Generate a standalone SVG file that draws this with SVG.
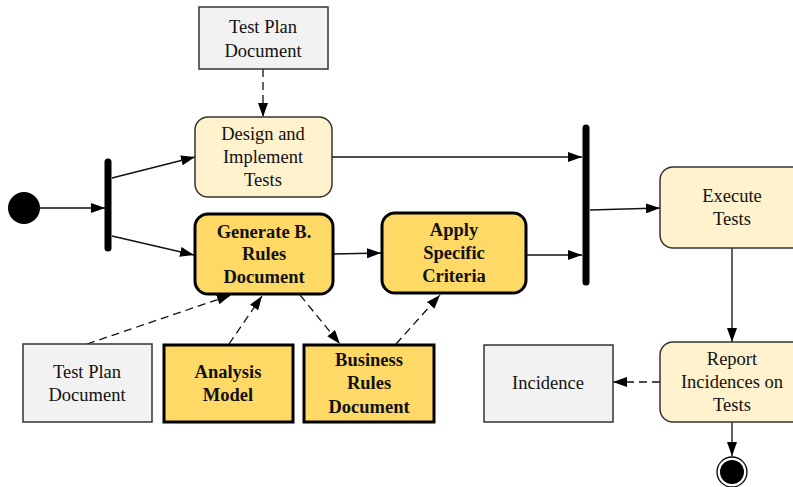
<svg xmlns="http://www.w3.org/2000/svg" width="793" height="487" viewBox="0 0 793 487">
  <style>
    .txt { font-family: "Liberation Serif", "Times New Roman", serif; font-size: 18.5px; fill: #111; text-anchor: middle; }
    .bold { font-weight: bold; }
    .act { fill: #FFF2CC; stroke: #333; stroke-width: 1.5; }
    .actb { fill: #FFD966; stroke: #000; stroke-width: 3; }
    .obj { fill: #F2F2F2; stroke: #333; stroke-width: 1.5; }
    .objb { fill: #FFD966; stroke: #000; stroke-width: 3; }
    .flow { stroke: #111; stroke-width: 1.3; fill: none; marker-end: url(#arrow); }
    .dep { stroke: #111; stroke-width: 1.3; fill: none; stroke-dasharray: 8 5; marker-end: url(#arrow); }
    .bar { stroke: #000; stroke-width: 7; stroke-linecap: round; }
  </style>
  <defs>
    <marker id="arrow" viewBox="0 0 14 10" refX="14" refY="5" markerWidth="14" markerHeight="10" markerUnits="userSpaceOnUse" orient="auto">
      <path d="M0,0 L14,5 L0,10 Z" fill="#000"/>
    </marker>
  </defs>

  <rect width="793" height="487" fill="#fff"/>

  <!-- connectors -->
  <g id="connectors">
    <line class="flow" x1="40" y1="208" x2="105" y2="208"/>
    <line class="flow" x1="112" y1="178" x2="195" y2="157"/>
    <line class="flow" x1="112" y1="236" x2="194" y2="255"/>
    <line class="flow" x1="332" y1="157" x2="582" y2="157"/>
    <line class="flow" x1="333" y1="254" x2="381" y2="253"/>
    <line class="flow" x1="526" y1="255" x2="582" y2="255"/>
    <line class="flow" x1="590" y1="210" x2="660" y2="208"/>
    <line class="flow" x1="732" y1="248" x2="732" y2="342"/>
    <line class="flow" x1="732" y1="422" x2="732" y2="456"/>
    <line class="dep" x1="263" y1="69" x2="263" y2="117"/>
    <line class="dep" x1="87" y1="344" x2="231" y2="295"/>
    <line class="dep" x1="229" y1="344" x2="262" y2="296"/>
    <line class="dep" x1="300" y1="295" x2="340" y2="344"/>
    <line class="dep" x1="396" y1="344" x2="440" y2="295"/>
    <line class="dep" x1="660" y1="382" x2="613" y2="382"/>
  </g>

  <!-- initial and final nodes -->
  <g id="start"><circle cx="24" cy="208" r="16" fill="#000"/></g>
  <g id="end">
    <circle cx="732" cy="472" r="15" fill="#fff" stroke="#000" stroke-width="1.3"/>
    <circle cx="732" cy="472" r="12" fill="#000"/>
  </g>

  <!-- fork / join bars -->
  <g id="fork"><line class="bar" x1="108" y1="162" x2="108" y2="248"/></g>
  <g id="join"><line class="bar" x1="586" y1="128" x2="586" y2="282"/></g>

  <!-- object nodes -->
  <g id="test-plan-top">
    <rect class="obj" x="199" y="7" width="129" height="62"/>
    <text class="txt" x="263" y="33">Test Plan</text>
    <text class="txt" x="263" y="57">Document</text>
  </g>
  <g id="test-plan-bottom">
    <rect class="obj" x="23" y="344" width="129" height="78"/>
    <text class="txt" x="87" y="378">Test Plan</text>
    <text class="txt" x="87" y="401">Document</text>
  </g>
  <g id="analysis-model">
    <rect class="objb" x="164" y="345" width="129" height="77"/>
    <text class="txt bold" x="228" y="378">Analysis</text>
    <text class="txt bold" x="228" y="401">Model</text>
  </g>
  <g id="business-rules">
    <rect class="objb" x="304" y="345" width="130" height="77"/>
    <text class="txt bold" x="369" y="366">Business</text>
    <text class="txt bold" x="369" y="389">Rules</text>
    <text class="txt bold" x="369" y="413">Document</text>
  </g>
  <g id="incidence">
    <rect class="obj" x="484" y="345" width="129" height="77"/>
    <text class="txt" x="548" y="389">Incidence</text>
  </g>

  <!-- action nodes -->
  <g id="design-tests">
    <rect class="act" x="195" y="117" width="137" height="80" rx="13"/>
    <text class="txt" x="263" y="140">Design and</text>
    <text class="txt" x="263" y="163">Implement</text>
    <text class="txt" x="263" y="186">Tests</text>
  </g>
  <g id="generate-rules">
    <rect class="actb" x="195" y="214" width="138" height="80" rx="13"/>
    <text class="txt bold" x="264" y="238">Generate B.</text>
    <text class="txt bold" x="264" y="260">Rules</text>
    <text class="txt bold" x="264" y="283">Document</text>
  </g>
  <g id="apply-criteria">
    <rect class="actb" x="382" y="213" width="144" height="80" rx="13"/>
    <text class="txt bold" x="454" y="236">Apply</text>
    <text class="txt bold" x="454" y="259">Specific</text>
    <text class="txt bold" x="454" y="282">Criteria</text>
  </g>
  <g id="execute-tests">
    <rect class="act" x="660" y="167" width="145" height="81" rx="13"/>
    <text class="txt" x="732" y="202">Execute</text>
    <text class="txt" x="732" y="225">Tests</text>
  </g>
  <g id="report-incidences">
    <rect class="act" x="660" y="342" width="145" height="80" rx="13"/>
    <text class="txt" x="732" y="365">Report</text>
    <text class="txt" x="732" y="388">Incidences on</text>
    <text class="txt" x="732" y="411">Tests</text>
  </g>
</svg>
